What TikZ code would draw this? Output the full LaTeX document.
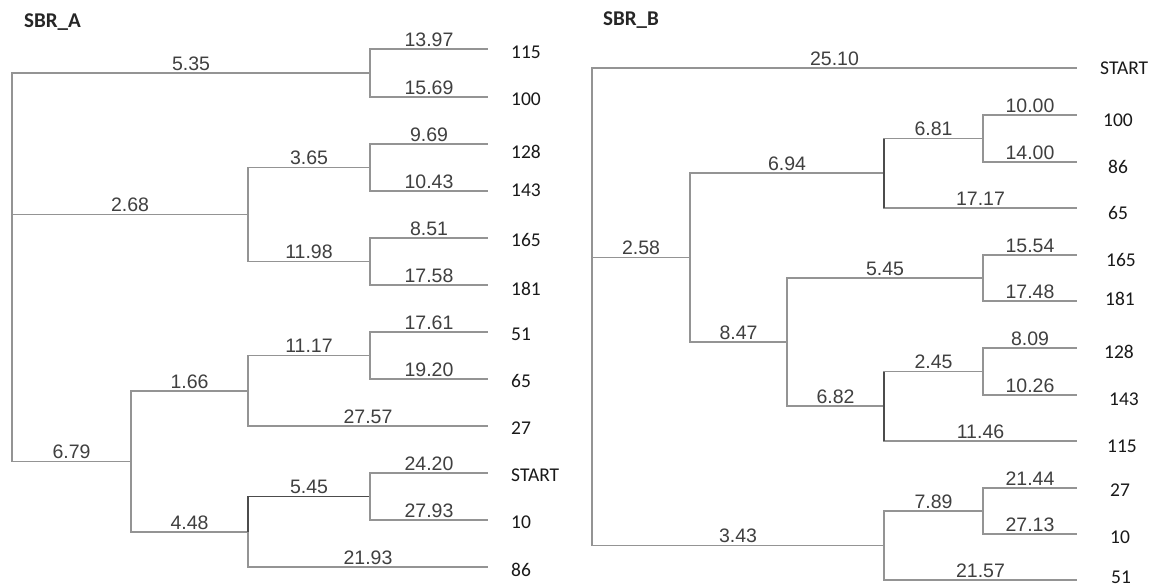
\documentclass[tikz,border=0pt]{standalone}
\usepackage{fontspec}
\setmainfont{Liberation Sans}
\newfontfamily\leaffont{Carlito}
\begin{document}
\begin{tikzpicture}[x=1pt,y=-1pt,
  br/.style={draw=black!42, line width=1.5pt},
  brd/.style={draw=black!70, line width=1.5pt},
  bl/.style={font=\fontsize{19.5}{19.5}\selectfont, text=black!75, inner sep=0pt, anchor=south, yshift=2pt},
  lf/.style={font=\leaffont\fontsize{19.5}{19.5}\selectfont, text=black!90, inner sep=0pt, anchor=west},
  ttl/.style={font=\leaffont\bfseries\fontsize{21}{21}\selectfont, text=black!85, inner sep=0pt, anchor=west}]
\useasboundingbox[fill=white] (0,0) rectangle (1155,587);

% ---------------- SBR_A ----------------
\node[ttl] (tA) at (24,22) {SBR\_A};
% leaf ends
\coordinate (A115) at (488,49);
\coordinate (A100) at (488,97);
\coordinate (A128) at (488,144);
\coordinate (A143) at (488,191);
\coordinate (A165) at (488,238);
\coordinate (A181) at (488,285);
\coordinate (A51) at (488,332);
\coordinate (A65) at (488,379);
\coordinate (A27) at (488,426);
\coordinate (AST) at (488,473);
\coordinate (A10) at (488,520);
\coordinate (A86) at (488,567);
% leaf labels
\node[lf] (lA115) at (511,52) {115};
\node[lf] (lA100) at (511,99) {100};
\node[lf] (lA128) at (511,152) {128};
\node[lf] (lA143) at (511,190) {143};
\node[lf] (lA165) at (511,240) {165};
\node[lf] (lA181) at (511,289) {181};
\node[lf] (lA51) at (511,334) {51};
\node[lf] (lA65) at (511,381) {65};
\node[lf] (lA27) at (511,428) {27};
\node[lf] (lAST) at (511,475) {START};
\node[lf] (lA10) at (511,522) {10};
\node[lf] (lA86) at (511,570) {86};
% internal nodes
\coordinate (a1) at (370,73);
\coordinate (a3) at (370,167.5);
\coordinate (a4) at (370,261.5);
\coordinate (a2) at (248,214.5);
\coordinate (a6) at (370,355.5);
\coordinate (a5) at (248,391);
\coordinate (a8) at (370,496.5);
\coordinate (a9) at (248,532);
\coordinate (a7) at (131,461.5);
\coordinate (aR) at (12,267);
% branches
\draw[br] (aR) |- (a1) node[bl,pos=.75] {5.35};
\draw[br] (aR) |- (a2) node[bl,pos=.75] {2.68};
\draw[br] (aR) |- (a7) node[bl,pos=.75] {6.79};
\draw[br] (a1) |- (A115) node[bl,pos=.75] {13.97};
\draw[br] (a1) |- (A100) node[bl,pos=.75] {15.69};
\draw[br] (a2) |- (a3) node[bl,pos=.75] {3.65};
\draw[br] (a2) |- (a4) node[bl,pos=.75] {11.98};
\draw[br] (a3) |- (A128) node[bl,pos=.75] {9.69};
\draw[br] (a3) |- (A143) node[bl,pos=.75] {10.43};
\draw[br] (a4) |- (A165) node[bl,pos=.75] {8.51};
\draw[br] (a4) |- (A181) node[bl,pos=.75] {17.58};
\draw[br] (a7) |- (a5) node[bl,pos=.75] {1.66};
\draw[br] (a7) |- (a9) node[bl,pos=.75] {4.48};
\draw[br] (a5) |- (a6) node[bl,pos=.75] {11.17};
\draw[br] (a5) |- (A27) node[bl,pos=.75] {27.57};
\draw[br] (a6) |- (A51) node[bl,pos=.75] {17.61};
\draw[br] (a6) |- (A65) node[bl,pos=.75] {19.20};
\draw[brd] (a9) |- (a8) node[bl,pos=.75] {5.45};
\draw[br] (a9) |- (A86) node[bl,pos=.75] {21.93};
\draw[br] (a8) |- (AST) node[bl,pos=.75] {24.20};
\draw[br] (a8) |- (A10) node[bl,pos=.75] {27.93};

% ---------------- SBR_B ----------------
\node[ttl] (tB) at (603,20) {SBR\_B};
\coordinate (BST) at (1077,68);
\coordinate (B100) at (1077,115);
\coordinate (B86) at (1077,162);
\coordinate (B65) at (1077,208);
\coordinate (B165) at (1077,255);
\coordinate (B181) at (1077,301);
\coordinate (B128) at (1077,348);
\coordinate (B143) at (1077,395);
\coordinate (B115) at (1077,441);
\coordinate (B27) at (1077,488);
\coordinate (B10) at (1077,534);
\coordinate (B51) at (1077,580);
\node[lf] (lBST) at (1100,68) {START};
\node[lf] (lB100) at (1103,120) {100};
\node[lf] (lB86) at (1108,167) {86};
\node[lf] (lB65) at (1108,213) {65};
\node[lf] (lB165) at (1106,260) {165};
\node[lf] (lB181) at (1105,299) {181};
\node[lf] (lB128) at (1104,352) {128};
\node[lf] (lB143) at (1109,399) {143};
\node[lf] (lB115) at (1107,446) {115};
\node[lf] (lB27) at (1110,490) {27};
\node[lf] (lB10) at (1110,537) {10};
\node[lf] (lB51) at (1111,577) {51};
\coordinate (b1) at (983,138.5);
\coordinate (b2) at (884,173);
\coordinate (b3) at (690,257.5);
\coordinate (b5) at (983,278);
\coordinate (b6) at (983,371.5);
\coordinate (b7) at (884,406);
\coordinate (b4) at (787,342);
\coordinate (b8) at (983,511);
\coordinate (b9) at (884,545.5);
\coordinate (bR) at (592,307);
\draw[br] (bR) |- (BST) node[bl,pos=.75] {25.10};
\draw[br] (bR) |- (b3) node[bl,pos=.75] {2.58};
\draw[br] (bR) |- (b9) node[bl,pos=.75] {3.43};
\draw[br] (b3) |- (b2) node[bl,pos=.75] {6.94};
\draw[br] (b3) |- (b4) node[bl,pos=.75] {8.47};
\draw[br] (b2) |- (b1) node[bl,pos=.75] {6.81};
\draw[br] (b2) |- (B65) node[bl,pos=.75] {17.17};
\draw[br] (b1) |- (B100) node[bl,pos=.75] {10.00};
\draw[br] (b1) |- (B86) node[bl,pos=.75] {14.00};
\draw[br] (b4) |- (b5) node[bl,pos=.75] {5.45};
\draw[br] (b4) |- (b7) node[bl,pos=.75] {6.82};
\draw[br] (b5) |- (B165) node[bl,pos=.75] {15.54};
\draw[br] (b5) |- (B181) node[bl,pos=.75] {17.48};
\draw[br] (b7) |- (b6) node[bl,pos=.75] {2.45};
\draw[br] (b7) |- (B115) node[bl,pos=.75] {11.46};
\draw[br] (b6) |- (B128) node[bl,pos=.75] {8.09};
\draw[br] (b6) |- (B143) node[bl,pos=.75] {10.26};
\draw[br] (b9) |- (b8) node[bl,pos=.75] {7.89};
\draw[br] (b9) |- (B51) node[bl,pos=.75] {21.57};
\draw[br] (b8) |- (B27) node[bl,pos=.75] {21.44};
\draw[br] (b8) |- (B10) node[bl,pos=.75] {27.13};
% darker vertical stems as in the reference
\draw[brd] (884,138.5) -- (884,208);
\draw[brd] (884,371.5) -- (884,441);
\end{tikzpicture}
\end{document}
